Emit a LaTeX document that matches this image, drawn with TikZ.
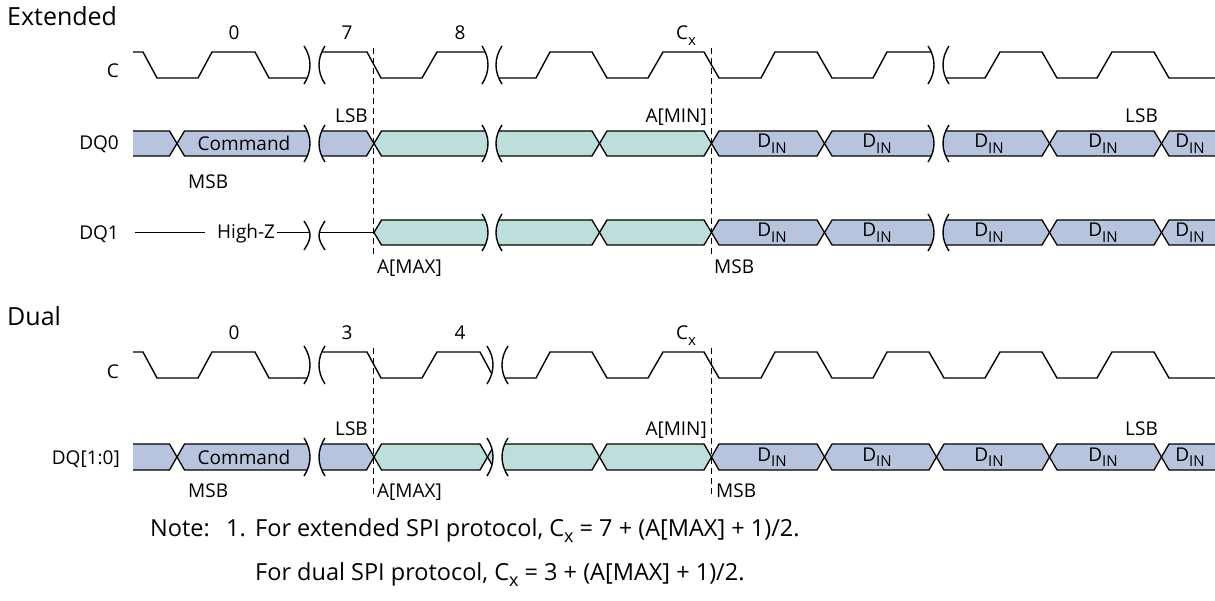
\documentclass[tikz,border=0pt]{standalone}
\usepackage{fontspec}
\setmainfont{Open Sans}
\definecolor{busblue}{RGB}{184,196,222}
\definecolor{busteal}{RGB}{190,222,219}
\tikzset{
  wave/.style={line width=1.4pt, line join=miter},
  bus/.style={line width=1.3pt},
  guide/.style={line width=1.2pt, dash pattern=on 6pt off 4pt},
  lbl/.style={inner sep=0pt, font=\fontsize{19}{22}\selectfont},
  head/.style={inner sep=0pt, font=\fontsize{25}{30}\selectfont},
  notefont/.style={inner sep=0pt, font=\fontsize{23.5}{28}\selectfont},
}
\newcommand\subx[1]{\raisebox{-5.5pt}{\fontsize{15}{15}\selectfont #1}}
\newcommand\subn[1]{\raisebox{-6.5pt}{\fontsize{18}{18}\selectfont #1}}
\newcommand\hexcell[5]{\filldraw[bus,fill=#1] (#2,{(#4+#5)/2}) -- ({#2+7.5},#4) -- ({#3-7.5},#4) -- (#3,{(#4+#5)/2}) -- ({#3-7.5},#5) -- ({#2+7.5},#5) -- cycle;}
\newcommand\firstcell[5]{\fill[#1] (#2,#4) -- ({#3-7.5},#4) -- (#3,{(#4+#5)/2}) -- ({#3-7.5},#5) -- (#2,#5) -- cycle;
  \draw[bus] (#2,#4) -- ({#3-7.5},#4) -- (#3,{(#4+#5)/2}) -- ({#3-7.5},#5) -- (#2,#5);}
\newcommand\lastcell[5]{\fill[#1] (#3,#4) -- ({#2+7.5},#4) -- (#2,{(#4+#5)/2}) -- ({#2+7.5},#5) -- (#3,#5) -- cycle;
  \draw[bus] (#3,#4) -- ({#2+7.5},#4) -- (#2,{(#4+#5)/2}) -- ({#2+7.5},#5) -- (#3,#5);}
\newcommand\brk[4]{%
  \fill[white] (#1,#3) .. controls ({#1+8},{#3+12}) and ({#1+8},{#4-12}) .. (#1,#4) -- (#2,#4) .. controls ({#2-8},{#4-12}) and ({#2-8},{#3+12}) .. (#2,#3) -- cycle;
  \draw[wave] (#1,#3) .. controls ({#1+8},{#3+12}) and ({#1+8},{#4-12}) .. (#1,#4);
  \draw[wave] (#2,#3) .. controls ({#2-8},{#3+12}) and ({#2-8},{#4-12}) .. (#2,#4);}
\begin{document}
\begin{tikzpicture}[x=1pt,y=-1pt]
\useasboundingbox (0,0) rectangle (1215,601);

% ===================== Extended =====================
\node[head,anchor=base west] (hext) at (7,26) {Extended};
\node[lbl,anchor=base east] (lcE) at (119,78) {C};
\node[lbl,anchor=base east] (ldq0) at (119,150) {DQ0};
\node[lbl,anchor=base east] (ldq1) at (119,239.5) {DQ1};
\node[lbl,anchor=base] (nE0) at (234,40) {0};
\node[lbl,anchor=base] (nE7) at (347,40) {7};
\node[lbl,anchor=base] (nE8) at (460,40) {8};
\node[lbl,anchor=base west] (nECx) at (676,40) {C\subx{x}};

% clock
\draw[wave] (133,52) -- (143,52) -- (157,78) -- (198,78) -- (212,52) -- (255,52) -- (269,78) -- (314.5,78) -- (314.5,52) -- (367,52) -- (381,78) -- (422,78) -- (437,52) -- (492,52) -- (492,78) -- (536,78) -- (550,52) -- (592,52) -- (607,78) -- (648,78) -- (663,52) -- (704,52) -- (719,78) -- (761,78) -- (775,52) -- (817,52) -- (832,78) -- (873,78) -- (887,52) -- (938.5,52) -- (938.5,78) -- (985,78) -- (1000,52) -- (1042,52) -- (1057,78) -- (1097,78) -- (1112,52) -- (1154,52) -- (1169,78) -- (1215,78);
\brk{304}{325}{46}{84}
\brk{482}{502}{46}{84}
\brk{928}{949}{46}{84}

% DQ0
\firstcell{busblue}{133}{177}{131}{156}
\hexcell{busblue}{177}{374}{131}{156}
\hexcell{busteal}{374}{599.5}{131}{156}
\hexcell{busteal}{599.5}{711.5}{131}{156}
\hexcell{busblue}{711.5}{824.5}{131}{156}
\hexcell{busblue}{824.5}{1049.5}{131}{156}
\hexcell{busblue}{1049.5}{1161.5}{131}{156}
\lastcell{busblue}{1161.5}{1216}{131}{156}
\brk{304}{325}{125}{162}
\brk{482}{502}{125}{162}
\brk{928}{949}{125}{162}

% DQ1
\draw[bus] (135,232.5) -- (205,232.5);
\draw[bus] (277,232.5) -- (374,232.5);
\hexcell{busteal}{374}{599.5}{220}{245}
\hexcell{busteal}{599.5}{711.5}{220}{245}
\hexcell{busblue}{711.5}{824.5}{220}{245}
\hexcell{busblue}{824.5}{1049.5}{220}{245}
\hexcell{busblue}{1049.5}{1161.5}{220}{245}
\lastcell{busblue}{1161.5}{1216}{220}{245}
\brk{304}{325}{221}{250}
\brk{482}{502}{214}{251}
\brk{928}{949}{214}{251}

% guides
\draw[guide] (373.5,48) -- (373.5,255);
\draw[guide] (711.5,48) -- (711.5,255);

% labels
\node[lbl,anchor=base] (cmdE) at (244,150.5) {Command};
\node[lbl,anchor=base east] (lsbE1) at (368,123) {LSB};
\node[lbl,anchor=base east] (aminE) at (707,123) {A[MIN]};
\node[lbl,anchor=base west] (lsbE2) at (1125,123) {LSB};
\node[lbl,anchor=base west] (msbE1) at (188,189) {MSB};
\node[lbl,anchor=base west] (hiz) at (217,239) {High-Z};
\node[lbl,anchor=base west] (amaxE) at (377,274) {A[MAX]};
\node[lbl,anchor=base west] (msbE2) at (714,274) {MSB};
\foreach \xx/\nm in {772/a,877/b,989/c,1103/d,1190/e}{
  \node[lbl] (dinE0\nm) at (\xx,143.5) {D\subx{IN}};
  \node[lbl] (dinE1\nm) at (\xx,232.5) {D\subx{IN}};
}

% ===================== Dual =====================
\node[head,anchor=base west] (hdual) at (7,326) {Dual};
\node[lbl,anchor=base east] (lcD) at (119,378) {C};
\node[lbl,anchor=base east] (ldqd) at (120,464) {DQ[1:0]};
\node[lbl,anchor=base] (nD0) at (234,340) {0};
\node[lbl,anchor=base] (nD3) at (347,340) {3};
\node[lbl,anchor=base] (nD4) at (460,340) {4};
\node[lbl,anchor=base west] (nDCx) at (676,340) {C\subx{x}};

\draw[wave] (133,352) -- (143,352) -- (157,378) -- (198,378) -- (212,352) -- (255,352) -- (269,378) -- (314.5,378) -- (314.5,352) -- (367,352) -- (381,378) -- (422,378) -- (437,352) -- (480,352) -- (494,378) -- (536,378) -- (550,352) -- (592,352) -- (607,378) -- (648,378) -- (663,352) -- (704,352) -- (719,378) -- (761,378) -- (775,352) -- (817,352) -- (832,378) -- (873,378) -- (887,352) -- (929,352) -- (944,378) -- (985,378) -- (1000,352) -- (1042,352) -- (1057,378) -- (1097,378) -- (1112,352) -- (1154,352) -- (1169,378) -- (1215,378);
\brk{304}{325}{346}{384}
\brk{487}{508}{346}{384}

\firstcell{busblue}{133}{177}{444}{470}
\hexcell{busblue}{177}{374}{444}{470}
\hexcell{busteal}{374}{487.5}{444}{470}
\hexcell{busteal}{487.5}{599.5}{444}{470}
\hexcell{busteal}{599.5}{711.5}{444}{470}
\hexcell{busblue}{711.5}{824.5}{444}{470}
\hexcell{busblue}{824.5}{936.5}{444}{470}
\hexcell{busblue}{936.5}{1049.5}{444}{470}
\hexcell{busblue}{1049.5}{1161.5}{444}{470}
\lastcell{busblue}{1161.5}{1216}{444}{470}
\brk{304}{325}{438}{476}
\brk{487}{508}{438}{476}

\draw[guide] (373.5,348) -- (373.5,498);
\draw[guide] (711.5,348) -- (711.5,498);

\node[lbl,anchor=base] (cmdD) at (244,464) {Command};
\node[lbl,anchor=base east] (lsbD1) at (368,435) {LSB};
\node[lbl,anchor=base east] (aminD) at (707,435) {A[MIN]};
\node[lbl,anchor=base west] (lsbD2) at (1125,435) {LSB};
\node[lbl,anchor=base west] (msbD1) at (188,497) {MSB};
\node[lbl,anchor=base west] (amaxD) at (377,497) {A[MAX]};
\node[lbl,anchor=base west] (msbD2) at (716,497) {MSB};
\foreach \xx/\nm in {772/a,877/b,989/c,1103/d,1190/e}{
  \node[lbl] (dinD\nm) at (\xx,457) {D\subx{IN}};
}

% ===================== Note =====================
\node[notefont,anchor=base west] (note) at (150,536) {Note:};
\node[notefont,anchor=base west] (note1) at (226,536) {1.};
\node[notefont,anchor=base west] (noteA) at (255,536) {For extended SPI protocol, C\subn{x} = 7 + (A[MAX] + 1)/2.};
\node[notefont,anchor=base west] (noteB) at (255,580) {For dual SPI protocol, C\subn{x} = 3 + (A[MAX] + 1)/2.};
\end{tikzpicture}
\end{document}
